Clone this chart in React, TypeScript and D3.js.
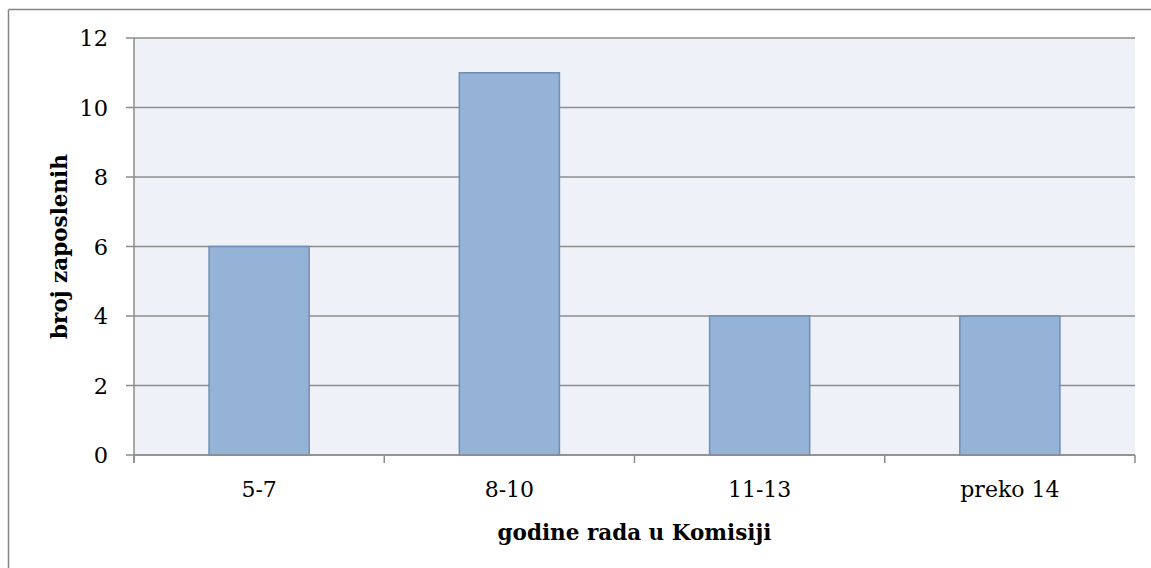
import React from "react";
import * as d3 from "d3";

const categories = ["5-7", "8-10", "11-13", "preko 14"];
const values = [6, 11, 4, 4];
const yTicks = [0, 2, 4, 6, 8, 10, 12];
const xTitle = "godine rada u Komisiji";
const yTitle = "broj zaposlenih";

const W = 1151;
const H = 568;
const plot = { left: 134, right: 1135, top: 38, bottom: 455 };
const FONT = "'DejaVu Serif', 'Liberation Serif', serif";

export default function App() {
  const x = d3
    .scaleBand<string>()
    .domain(categories)
    .range([plot.left, plot.right])
    .paddingInner(0.6)
    .paddingOuter(0.3);
  const y = d3.scaleLinear().domain([0, 12]).range([plot.bottom, plot.top]);
  const step = (plot.right - plot.left) / categories.length;
  const boundaries = d3.range(categories.length + 1).map((i) => plot.left + i * step);

  return (
    <svg
      width={W}
      height={H}
      style={{ position: "absolute", left: 0, top: 0, background: "#fff", overflow: "hidden" }}
    >
      <rect x={0} y={0} width={W} height={H} fill="#fff" />
      {/* outer frame (only top and left edges are within view) */}
      <line x1={8.5} x2={W} y1={9.5} y2={9.5} stroke="#868686" strokeWidth={1.5} />
      <line x1={8.5} x2={8.5} y1={9.5} y2={H} stroke="#868686" strokeWidth={1.5} />
      {/* plot area */}
      <rect
        x={plot.left}
        y={plot.top}
        width={plot.right - plot.left}
        height={plot.bottom - plot.top}
        fill="#EEF2F8"
      />
      {/* gridlines */}
      {yTicks.map((t) => (
        <line
          key={"g" + t}
          x1={plot.left - 8}
          x2={plot.right}
          y1={y(t)}
          y2={y(t)}
          stroke="#8C8C8C"
          strokeWidth={1.5}
        />
      ))}
      {/* bars */}
      {categories.map((c, i) => (
        <rect
          key={c}
          x={x(c)!}
          y={y(values[i])}
          width={x.bandwidth()}
          height={y(0) - y(values[i])}
          fill="#95B3D7"
          stroke="#6F8DB5"
          strokeWidth={1.5}
        />
      ))}
      {/* y axis line */}
      <line x1={plot.left} x2={plot.left} y1={plot.top} y2={plot.bottom + 8} stroke="#8C8C8C" strokeWidth={1.5} />
      {/* x axis ticks */}
      {boundaries.map((b, i) => (
        <line key={"xt" + i} x1={b} x2={b} y1={plot.bottom} y2={plot.bottom + 8} stroke="#8C8C8C" strokeWidth={1.5} />
      ))}
      <line x1={plot.left} x2={plot.right} y1={plot.bottom} y2={plot.bottom} stroke="#8C8C8C" strokeWidth={1.5} />
      {/* y tick labels */}
      {yTicks.map((t) => (
        <text
          key={"yl" + t}
          x={108}
          y={y(t)}
          dy="0.36em"
          textAnchor="end"
          fontFamily={FONT}
          fontSize={22.5}
          fill="#000"
        >
          {t}
        </text>
      ))}
      {/* x tick labels */}
      {categories.map((c) => (
        <text
          key={"xl" + c}
          x={x(c)! + x.bandwidth() / 2}
          y={497}
          textAnchor="middle"
          fontFamily={FONT}
          fontSize={22}
          fill="#000"
        >
          {c}
        </text>
      ))}
      <text
        x={(plot.left + plot.right) / 2}
        y={540}
        textAnchor="middle"
        fontFamily={FONT}
        fontSize={21.5}
        fontWeight="bold"
        fill="#000"
      >
        {xTitle}
      </text>
      <text
        transform={`translate(67, ${(plot.top + plot.bottom) / 2}) rotate(-90)`}
        textAnchor="middle"
        fontFamily={FONT}
        fontSize={21.5}
        fontWeight="bold"
        fill="#000"
      >
        {yTitle}
      </text>
    </svg>
  );
}
